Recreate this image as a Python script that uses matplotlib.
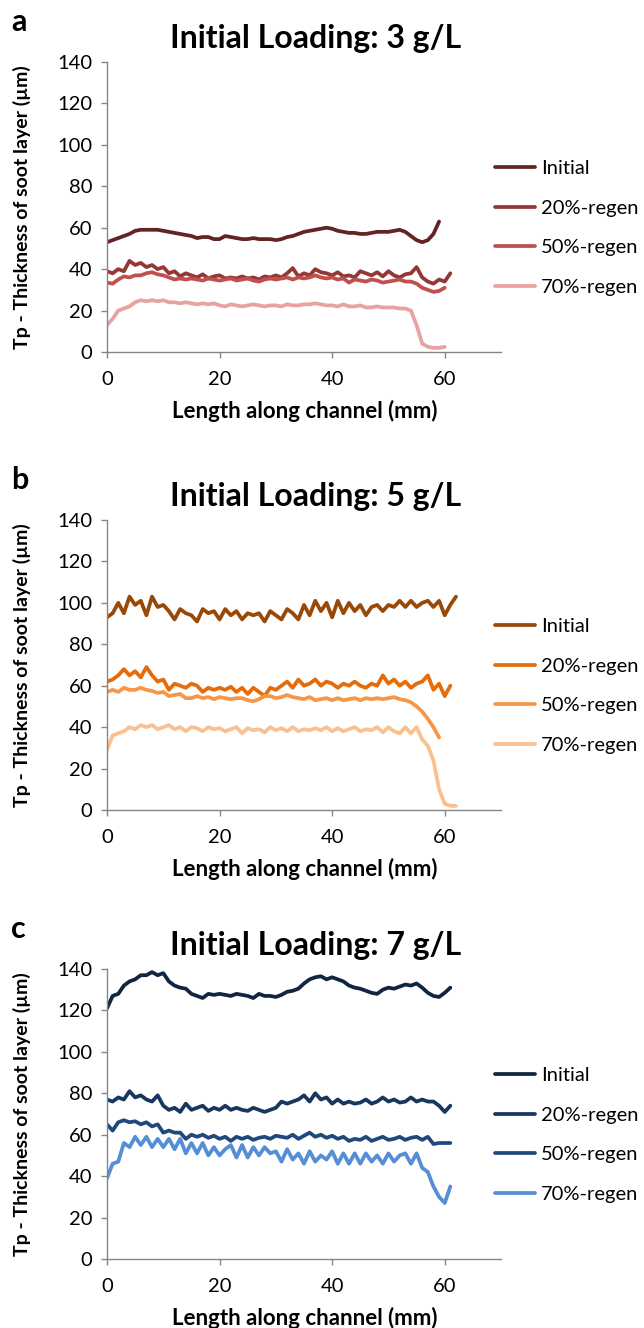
import numpy as np
import matplotlib
matplotlib.use("Agg")
import matplotlib.pyplot as plt

plt.rcParams['font.family'] = ['Lato', 'DejaVu Sans']

# ---- data (1 mm steps) ----
series_labels = ["Initial", "20%-regen", "50%-regen", "70%-regen"]
length_mm = list(range(0, 63))

# panel a: 3 g/L
a_initial = [53, 54, 55, 56, 57, 58.5, 59, 59, 59, 59, 58.5, 58, 57.5, 57, 56.5, 56, 55, 55.5, 55.5, 54.5,
             54.5, 56, 55.5, 55, 54.5, 54.5, 55, 54.5, 54.5, 54.5, 54, 54.5, 55.5, 56, 57, 58, 58.5, 59, 59.5, 60,
             59.5, 58.5, 58, 57.5, 57.5, 57, 57, 57.5, 58, 58, 58, 58.5, 59, 58, 56, 54, 53, 54, 57, 63]
a_regen20 = [39, 38, 40, 39, 44, 42, 43, 41, 42, 40, 41, 38, 39, 36.5, 38, 37, 36, 37.5, 35.5, 36.5,
             37, 35.5, 36, 35.5, 36.5, 35.5, 36, 35, 36.5, 36, 37, 36, 38, 40.5, 36.5, 38, 37, 40, 38.5, 38,
             37, 38.5, 36.5, 37, 36, 39, 38, 37, 38.5, 36.5, 39, 37, 36, 37.5, 38, 41, 36, 34, 33, 35, 34, 38]
a_regen50 = [33.5, 33, 35, 36.5, 36, 37, 37, 38, 38.5, 37.5, 37, 36, 35, 35.5, 35, 35.5, 35, 34.5, 35.5, 35,
             34.5, 35, 35.5, 34.5, 35, 35.5, 34.5, 34, 35, 35.5, 35, 35.5, 36, 35, 36, 35.5, 36, 37, 36, 35.5,
             36, 35, 35.5, 33.5, 35, 34.5, 34, 35, 34.5, 33.5, 34, 34.5, 35, 34, 34, 33, 31, 30, 29, 29.5, 31]
a_regen70 = [13, 16, 20, 21, 22, 24, 25, 24.5, 25, 24.5, 25, 24, 24, 23.5, 24, 23.5, 23, 23.5, 23, 23.5,
             22.5, 22, 23, 22.5, 22, 22.5, 23, 22.5, 22, 22.5, 22.5, 22, 23, 22.5, 22.5, 23, 23, 23.5, 23, 22.5,
             22.5, 22, 23, 22, 22, 22.5, 21.5, 21.5, 22, 21.5, 21.5, 21.5, 21, 21, 20, 13, 4, 2.5, 2, 2, 2.5]

# panel b: 5 g/L
b_initial = [93, 95, 100, 95, 103, 99, 101, 94, 103, 98, 99, 96, 92, 97, 95, 94, 91, 97, 95, 96,
             92, 97, 94, 96, 92, 95, 94, 95, 91, 96, 94, 92, 97, 95, 92, 99, 94, 101, 96, 100,
             93, 101, 95, 100, 96, 99, 94, 98, 99, 96, 99, 98, 101, 98, 101, 98, 100, 101, 98, 101, 94, 99, 103]
b_regen20 = [62, 63, 65, 68, 65, 67, 64, 69, 65, 62, 63, 58, 61, 60, 59, 61, 60, 57, 59, 58,
             59, 58, 59.5, 57, 59, 56, 59, 57, 55, 59, 58, 60, 62, 59, 63, 60, 61, 63, 60, 62,
             61, 59, 61, 60, 62, 60, 59, 61, 60, 65, 61, 63, 60, 62, 59, 61, 62, 65, 58, 61, 55, 60]
b_regen50 = [57, 58, 57, 59, 58, 58, 59, 58, 57.5, 56.5, 57, 55, 55.5, 56, 54, 54, 55, 54, 54.5, 53.5,
             54.5, 54, 53.5, 54, 54, 53, 52.5, 53.5, 55, 55, 54, 54.5, 55.5, 54.5, 54, 53.5, 54.5, 53, 53.5, 54,
             53, 54, 53, 53.5, 54, 53, 54, 53.5, 54, 53.5, 54, 54.5, 53.5, 53, 52, 50, 47.5, 44, 40, 35]
b_regen70 = [29, 36, 37, 38, 40, 39, 41, 40, 41, 39, 40, 41, 39, 40, 38, 40, 39.5, 38, 40, 39,
             39.5, 38, 39, 40, 37, 39.5, 38.5, 39, 37.5, 40, 38.5, 39.5, 38, 40, 38, 39, 38.5, 39.5, 38.5, 40,
             38, 39.5, 38, 39, 40, 38, 39, 38.5, 40, 37.5, 40, 38, 37, 40, 37, 40, 34, 31, 24, 10, 3, 2, 2]

# panel c: 7 g/L
c_initial = [121, 127, 128, 132, 134, 135, 137, 137, 138.5, 137, 138, 134, 132, 131, 130.5, 128, 127, 126, 128, 127.5,
             128, 127.5, 127, 128, 127.5, 127, 126, 128, 127, 127, 126.5, 127.5, 129, 129.5, 130.5, 133, 135, 136, 136.5, 135,
             136, 135, 134, 132, 131, 130.5, 129.5, 128.5, 128, 130, 131, 130.5, 131.5, 132.5, 132, 133, 131, 128.5, 127,
             126.5, 128.5, 131]
c_regen20 = [77, 76, 78, 77, 81, 78, 79, 77, 76, 79, 74, 72, 73, 71, 75, 72, 73, 74, 71.5, 73,
             72, 74, 72, 73, 72, 71.5, 73, 72, 71, 72, 73, 76, 75, 76, 77, 79, 76, 80, 77, 78,
             75, 77, 75, 76, 75, 75.5, 77, 75, 76, 78, 76, 77, 75.5, 76, 78, 76, 77, 76, 76, 74, 71, 74]
c_regen50 = [65, 62, 66, 67, 66, 66.5, 65, 66, 64, 65, 61, 62, 61, 61, 58, 60, 59, 60, 58.5, 59.5,
             58, 59, 57, 59, 58, 59, 57.5, 58.5, 59, 58, 59.5, 59, 58.5, 60, 58, 59.5, 61, 59, 60, 58.5,
             59.5, 58, 59, 57, 58, 57.5, 59, 57, 58, 59, 57.5, 58, 59, 57.5, 58.5, 59, 57.5, 59, 55.5, 56, 56, 56]
c_regen70 = [39, 46, 47, 56, 54, 59, 55, 59, 54, 58, 54, 58, 53, 58, 51, 56, 51, 56, 50, 54,
             50, 53, 55, 49, 55, 49, 54, 50, 54, 51, 52, 47, 53, 48, 51, 46, 52, 47, 50, 48,
             52, 46, 51, 46, 51, 46, 51, 47, 50, 46, 51, 47, 50, 51, 46, 51, 44, 42, 35, 30, 27, 35]

panels = [
    ("a", "Initial Loading: 3 g/L", [a_initial, a_regen20, a_regen50, a_regen70],
     ["#632523", "#953735", "#C0504D", "#E6A3A1"]),
    ("b", "Initial Loading: 5 g/L", [b_initial, b_regen20, b_regen50, b_regen70],
     ["#984807", "#E46C0A", "#F79646", "#FAC090"]),
    ("c", "Initial Loading: 7 g/L", [c_initial, c_regen20, c_regen50, c_regen70],
     ["#10253F", "#17375E", "#1F497D", "#558ED5"]),
]

# ---- layout (pixel positions of each plot area) ----
W, H = 644, 1328
ax_left, ax_right = 107, 501
ax_tops = [62, 520, 969]
ax_h = 290
gray = "#868686"

fig = plt.figure(figsize=(W / 100, H / 100), dpi=100)

for (letter, title, data, colors), top in zip(panels, ax_tops):
    bottom = top + ax_h
    ax = fig.add_axes([ax_left / W, 1 - bottom / H, (ax_right - ax_left) / W, ax_h / H])
    for vals, col, lab in zip(data, colors, series_labels):
        ax.plot(length_mm[:len(vals)], vals, color=col, lw=2.7, label=lab,
                solid_joinstyle="round", solid_capstyle="round")
    ax.set_xlim(0, 70)
    ax.set_ylim(0, 140)
    ax.set_xticks([0, 20, 40, 60])
    ax.set_yticks(range(0, 141, 20))
    for s in ["top", "right"]:
        ax.spines[s].set_visible(False)
    for s in ["left", "bottom"]:
        ax.spines[s].set_color(gray)
        ax.spines[s].set_linewidth(1.0)
    ax.tick_params(axis="both", colors=gray, labelcolor="black", labelsize=14.5,
                   length=4.5, width=1.0, direction="out")
    ax.tick_params(axis="x", pad=9)
    ax.tick_params(axis="y", pad=6)

    mid = (top + bottom) / 2
    ax.legend(loc="center left", bbox_to_anchor=(495 / W, 1 - (mid + 21) / H),
              bbox_transform=fig.transFigure, frameon=False, fontsize=14.5,
              handlelength=2.0, handletextpad=0.3, labelspacing=1.12,
              borderpad=0, borderaxespad=0)

    fig.text(316 / W, 1 - (top - 14) / H, title, fontsize=23, fontweight="bold",
             ha="center", va="baseline")
    fig.text(11 / W, 1 - (top - 31) / H, letter, fontsize=22, fontweight="bold",
             ha="left", va="baseline")
    fig.text(22 / W, 1 - mid / H, "Tp - Thickness of soot layer (µm)", fontsize=14,
             fontweight="bold", rotation=90, ha="center", va="center")
    fig.text(305 / W, 1 - (bottom + 59) / H, "Length along channel (mm)", fontsize=16,
             fontweight="bold", ha="center", va="center")

fig.savefig("out.png", dpi=100)
